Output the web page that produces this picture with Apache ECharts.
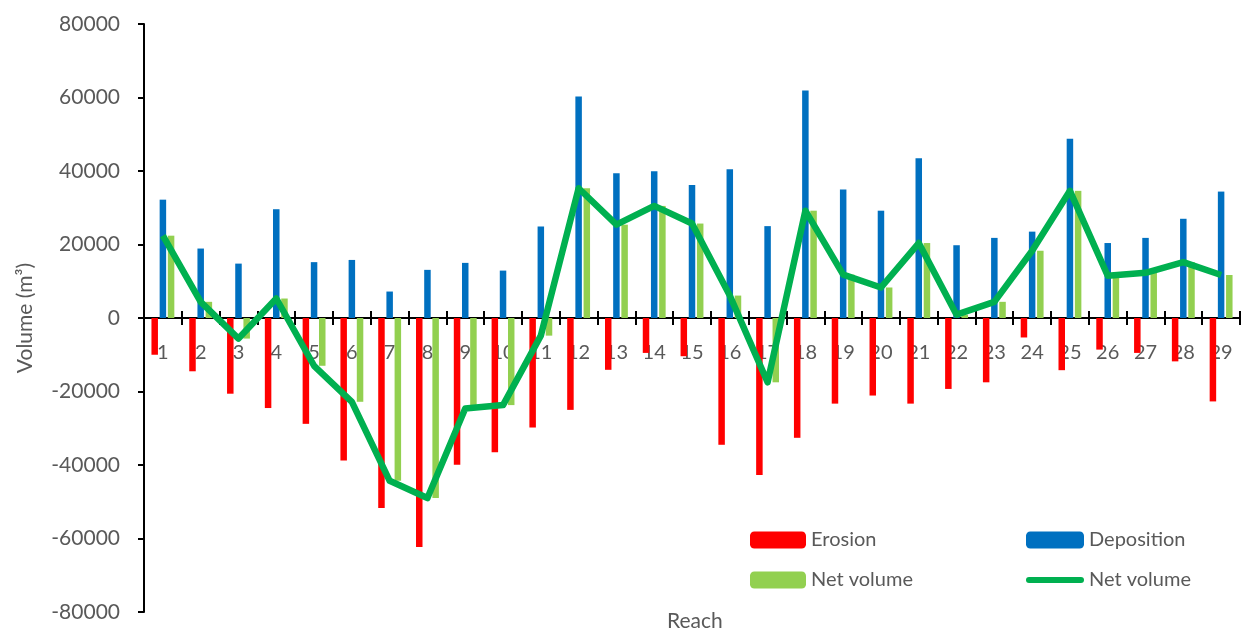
<!DOCTYPE html>
<html>
<head>
<meta charset="utf-8">
<script src="https://cdn.jsdelivr.net/npm/echarts@6/dist/echarts.min.js"></script>
<style>
  html, body { margin: 0; padding: 0; background: #fff; }
  #chart { width: 1241px; height: 632px; }
</style>
</head>
<body>
<div id="chart"></div>
<script>
var reaches = ['1', '2', '3', '4', '5', '6', '7', '8', '9', '10', '11', '12', '13', '14', '15',
  '16', '17', '18', '19', '20', '21', '22', '23', '24', '25', '26', '27', '28', '29'];

var erosion = [-10000, -14500, -20600, -24500, -28800, -38800, -51700, -62300, -39900, -36500,
  -29800, -25000, -14100, -9500, -10400, -34500, -42700, -32600, -23300, -21100,
  -23300, -19300, -17500, -5300, -14200, -8600, -9500, -11800, -22700];

var deposition = [32200, 18900, 14800, 29600, 15200, 15800, 7200, 13100, 15000, 12900,
  24900, 60300, 39400, 39900, 36200, 40500, 25000, 61900, 35000, 29200,
  43500, 19800, 21800, 23500, 48800, 20400, 21800, 27000, 34400];

var netVolume = [22400, 4400, -5600, 5300, -13000, -22800, -44300, -49000, -24600, -23700,
  -4800, 35300, 25400, 30500, 25700, 6100, -17500, 29200, 11800, 8300,
  20400, 900, 4400, 18300, 34600, 11500, 12300, 15200, 11700];

var yTicks = [-80000, 80000, 20000]; // min, max, interval

var textColor = '#595959';
var font = 'Lato, "Liberation Sans", sans-serif';

// grid box, zero line sits in the middle because the y range is symmetric
var gridTop = 24;
var gridBottom = 20;
var plotH = 632 - gridTop - gridBottom;

var chart = echarts.init(document.getElementById('chart'));

var option = {
  animation: false,
  backgroundColor: '#ffffff',
  textStyle: { fontFamily: font },
  title: {
    text: 'Reach',
    left: 662,
    top: 606,
    textStyle: { fontSize: 21, fontWeight: 'normal', color: textColor, fontFamily: font }
  },
  legend: [{
    orient: 'vertical',
    left: 750,
    top: 530,
    padding: 0,
    itemWidth: 56,
    itemHeight: 17,
    itemGap: 20,
    textStyle: { fontSize: 20, color: textColor },
    data: ['Erosion', 'Net volume']
  }, {
    orient: 'vertical',
    left: 1026,
    top: 530,
    padding: 0,
    itemWidth: 58,
    itemHeight: 17,
    itemGap: 20,
    textStyle: { fontSize: 20, color: textColor },
    formatter: function (name) {
      return name === 'Net volume line' ? 'Net volume' : name;
    },
    data: ['Deposition', {
      name: 'Net volume line',
      icon: 'path://M3,0 L55,0 A3,3 0 0 1 55,6 L3,6 A3,3 0 0 1 3,0 Z'
    }]
  }],
  grid: {
    left: 144,
    right: 1,
    top: gridTop,
    bottom: gridBottom,
    outerBoundsMode: 'none',
    containLabel: false
  },
  xAxis: [{
    type: 'category',
    data: reaches,
    position: 'bottom',
    offset: -plotH / 2,
    axisLine: { onZero: false, lineStyle: { color: '#000', width: 2 } },
    axisTick: { show: true, length: 7, lineStyle: { color: '#000', width: 2 } },
    axisLabel: { color: textColor, fontSize: 20, margin: 25 },
    splitLine: { show: false }
  }, {
    // second copy only for the upper half of the crossing ticks
    type: 'category',
    data: reaches,
    position: 'bottom',
    offset: -plotH / 2,
    axisLine: { show: false, onZero: false },
    axisTick: { show: true, inside: true, length: 7, lineStyle: { color: '#000', width: 2 } },
    axisLabel: { show: false },
    splitLine: { show: false }
  }],
  yAxis: {
    type: 'value',
    min: yTicks[0],
    max: yTicks[1],
    interval: yTicks[2],
    name: 'Volume (m³)',
    nameLocation: 'middle',
    nameGap: 108,
    nameTextStyle: { fontSize: 21, color: textColor },
    axisLine: { show: true, lineStyle: { color: '#000', width: 2 } },
    axisTick: { show: true, length: 6, lineStyle: { color: '#000', width: 2 } },
    axisLabel: {
      color: textColor,
      fontSize: 21,
      margin: 24,
      formatter: function (v) { return String(v); }
    },
    splitLine: { show: false }
  },
  series: [{
    name: 'Erosion',
    type: 'bar',
    barWidth: 6.5,
    barGap: '26%',
    itemStyle: { color: '#ff0000' },
    data: erosion
  }, {
    name: 'Deposition',
    type: 'bar',
    barWidth: 6.5,
    barGap: '26%',
    itemStyle: { color: '#0070c0' },
    data: deposition
  }, {
    name: 'Net volume',
    type: 'bar',
    barWidth: 6.5,
    barGap: '26%',
    itemStyle: { color: '#92d050' },
    data: netVolume
  }, {
    name: 'Net volume line',
    type: 'line',
    symbol: 'none',
    z: 5,
    lineStyle: { color: '#00b050', width: 6.5, join: 'round' },
    itemStyle: { color: '#00b050' },
    data: netVolume
  }]
};

chart.setOption(option);
</script>
</body>
</html>
